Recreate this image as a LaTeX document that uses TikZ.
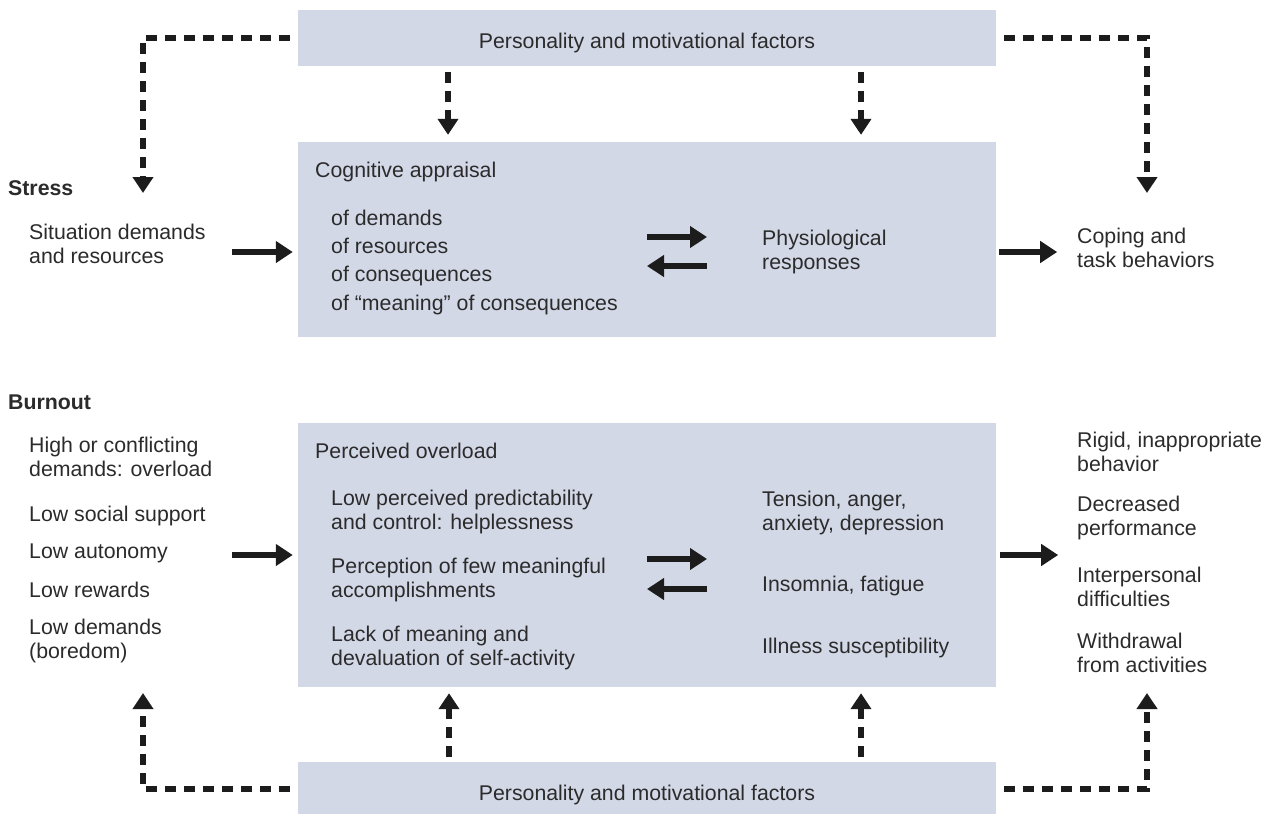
\documentclass[tikz,border=0pt]{standalone}
\usepackage{fontspec}
\setmainfont{Liberation Sans}
\usetikzlibrary{arrows.meta}
\definecolor{boxfill}{HTML}{D3D8E7}
\definecolor{txt}{HTML}{2B2B2B}
\definecolor{ink}{HTML}{1C1C1C}
\newcommand{\fs}{\fontsize{21.3}{24.5}\selectfont}
\begin{document}
\begin{tikzpicture}[x=1pt,y=-1pt,
  box/.style={fill=boxfill, draw=none, inner sep=0, rectangle, minimum width=698pt},
  lbl/.style={anchor=base west, align=left, inner sep=0, text=txt, font=\fs},
  head/.style={anchor=base west, inner sep=0, text=txt, font=\fs\bfseries},
  arr/.style={line width=5.5pt, draw=ink, -{Triangle[length=17pt,width=21pt]}},
  darr/.style={line width=5.5pt, draw=ink, dash pattern=on 11pt off 8pt, -{Triangle[length=16pt,width=20pt]}}
]
\useasboundingbox (0,0) rectangle (1270,814);
\fill[white] (0,0) rectangle (1270,814);

% boxes
\node[box, minimum height=56pt] (ptop) at (647,38) {};
\node[box, minimum height=195pt] (cog) at (647,239.5) {};
\node[box, minimum height=264pt] (ovl) at (647,555) {};
\node[box, minimum height=54pt] (pbot) at (647,789) {};

% texts top/bottom
\node[lbl, anchor=base] (ptoptxt) at (647,48) {Personality and motivational factors};
\node[lbl, anchor=base] (pbottxt) at (647,800) {Personality and motivational factors};

% Stress (multi-line nodes are anchored at the baseline of their last line)
\node[head] (stress) at (8,195) {Stress};
\node[lbl] (sit) at (29,263.5) {Situation demands\\and resources};
\node[lbl] (cogt) at (315,177) {Cognitive appraisal};
\node[lbl] (ofd) at (331,225) {of demands};
\node[lbl] (ofr) at (331,253) {of resources};
\node[lbl] (ofc) at (331,281.5) {of consequences};
\node[lbl] (ofm) at (331,310) {of \textquotedblleft meaning\textquotedblright\ of consequences};
\node[lbl] (phys) at (762,269.5) {Physiological\\responses};
\node[lbl] (cope) at (1077,267.5) {Coping and\\task behaviors};

% Burnout
\node[head] (burn) at (8,409) {Burnout};
\node[lbl] (b1) at (29,476.5) {High or conflicting\\demands: overload};
\node[lbl] (b2) at (29,521) {Low social support};
\node[lbl] (b3) at (29,558) {Low autonomy};
\node[lbl] (b4) at (29,597) {Low rewards};
\node[lbl] (b5) at (29,658.5) {Low demands\\(boredom)};
\node[lbl] (povl) at (315,458) {Perceived overload};
\node[lbl] (p1) at (331,529.5) {Low perceived predictability\\and control: helplessness};
\node[lbl] (p2) at (331,597.5) {Perception of few meaningful\\accomplishments};
\node[lbl] (p3) at (331,665.5) {Lack of meaning and\\devaluation of self-activity};
\node[lbl] (r1) at (762,530.5) {Tension, anger,\\anxiety, depression};
\node[lbl] (r2) at (762,591) {Insomnia, fatigue};
\node[lbl] (r3) at (762,653) {Illness susceptibility};
\node[lbl] (o1) at (1077,471.5) {Rigid, inappropriate\\behavior};
\node[lbl] (o2) at (1077,535.5) {Decreased\\performance};
\node[lbl] (o3) at (1077,606.5) {Interpersonal\\difficulties};
\node[lbl] (o4) at (1077,672.5) {Withdrawal\\from activities};

% coordinates
\coordinate (sA) at (232,252);
\coordinate (sB) at (1000,252);
\coordinate (sR1) at (647,237);
\coordinate (sR2) at (707,237);
\coordinate (sL1) at (707,266);
\coordinate (sL2) at (647,266);
\coordinate (bA) at (232,555);
\coordinate (bB) at (1000,555);
\coordinate (bR1) at (647,559);
\coordinate (bR2) at (707,559);
\coordinate (bL1) at (707,589);
\coordinate (bL2) at (647,589);
\coordinate (tl) at (143,193);
\coordinate (tr) at (1147,193);
\coordinate (bl) at (143,693);
\coordinate (br) at (1147,693);
\coordinate (d1) at (448,72);
\coordinate (d2) at (861,72);
\coordinate (u1) at (449,757);
\coordinate (u2) at (861,757);

% solid arrows
\draw[arr, shorten >=5pt] (sA) -- (sA -| cog.west);
\draw[arr] (cog.east |- sB) ++(3pt,0) -- ++(58pt,0) coordinate (sBend);
\draw[arr] (sR1) -- (sR2);
\draw[arr] (sL1) -- (sL2);
\draw[arr, shorten >=5pt] (bA) -- (bA -| ovl.west);
\draw[arr] (ovl.east |- bB) ++(4pt,0) -- ++(58pt,0) coordinate (bBend);
\draw[arr] (bR1) -- (bR2);
\draw[arr] (bL1) -- (bL2);

% dashed arrows
\draw[darr] ([xshift=-8pt]ptop.west) -| (tl);
\draw[darr] ([xshift=8pt]ptop.east) -| (tr);
\draw[darr, shorten >=7pt] (d1) -- (d1 |- cog.north);
\draw[darr, shorten >=7pt] (d2) -- (d2 |- cog.north);
\draw[darr] ([xshift=-8pt]pbot.west) -| (bl);
\draw[darr] ([xshift=8pt]pbot.east) -| (br);
\draw[darr, shorten >=6pt] (u1) -- (u1 |- ovl.south);
\draw[darr, shorten >=6pt] (u2) -- (u2 |- ovl.south);
\end{tikzpicture}
\end{document}
